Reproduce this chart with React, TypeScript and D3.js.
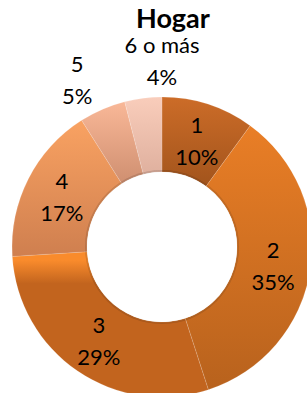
import * as d3 from "d3";

const categories = ["1", "2", "3", "4", "5", "6 o más"];
const values = [10, 35, 29, 17, 5, 4];
const percentLabels = ["10%", "35%", "29%", "17%", "5%", "4%"];
const title = "Hogar";

// top / bottom stops of each slice gradient
const topColors = ["#cc6c28", "#e97e26", "#f98b2c", "#f9a262", "#f9b898", "#f9cdbb"];
const bottomColors = ["#a2541c", "#b8621d", "#c2641e", "#cf7f4f", "#cf8f70", "#dfb09e"];

const W = 307;
const H = 393;
const cx = 162;
const cy = 247;
const outerR = 150;
const innerR = 75;

// outside labels for the two small slices (Excel pushes them out)
const outsideLabels: Record<number, { r: number; shift: number }> = {
  4: { r: 188, shift: -0.06 },
  5: { r: 187, shift: 0.1257 },
};

export default function App() {
  const pie = d3
    .pie<number>()
    .sort(null)
    .value((d) => d);
  const arcs = pie(values);
  const arc = d3
    .arc<d3.PieArcDatum<number>>()
    .innerRadius(innerR)
    .outerRadius(outerR);

  const labelPos = (a: d3.PieArcDatum<number>, i: number): [number, number] => {
    const o = outsideLabels[i];
    if (!o) return arc.centroid(a);
    const mid = (a.startAngle + a.endAngle) / 2 + o.shift;
    return [Math.sin(mid) * o.r, -Math.cos(mid) * o.r];
  };

  return (
    <svg
      width={W}
      height={H}
      style={{ position: "absolute", left: 0, top: 0, background: "#fff" }}
      fontFamily="Lato, 'Open Sans', sans-serif"
    >
      <defs>
        {arcs.map((_, i) => (
          <linearGradient key={i} id={`g${i}`} x1="0" y1="0" x2="0" y2="1">
            <stop offset={i === 2 ? "0.06" : "0"} stopColor={topColors[i]} />
            <stop offset={i === 2 ? "0.22" : "1"} stopColor={bottomColors[i]} />
          </linearGradient>
        ))}
        <radialGradient id="hole" cx="0.5" cy="0.5" r="0.5">
          <stop offset="0.9" stopColor="#fff" stopOpacity="0" />
          <stop offset="1" stopColor="#000" stopOpacity="0.15" />
        </radialGradient>
      </defs>
      <text
        x={173}
        y={28}
        textAnchor="middle"
        fontWeight="bold"
        fontSize={27}
        fill="#000"
      >
        {title}
      </text>
      <g transform={`translate(${cx},${cy})`}>
        {arcs.map((a, i) => (
          <path
            key={categories[i]}
            d={arc(a) ?? ""}
            fill={`url(#g${i})`}
            stroke="#ffffff"
            strokeOpacity={0.2}
            strokeWidth={0.7}
          />
        ))}
        <circle r={innerR + 2} fill="url(#hole)" />
        <circle r={innerR} fill="#fff" />
        {arcs.map((a, i) => {
          const [x, y] = labelPos(a, i);
          return (
            <text key={i} textAnchor="middle" fontSize={22} fill="#000">
              <tspan x={x} y={y - 7}>
                {categories[i]}
              </tspan>
              <tspan x={x} y={y + 25}>
                {percentLabels[i]}
              </tspan>
            </text>
          );
        })}
      </g>
    </svg>
  );
}
